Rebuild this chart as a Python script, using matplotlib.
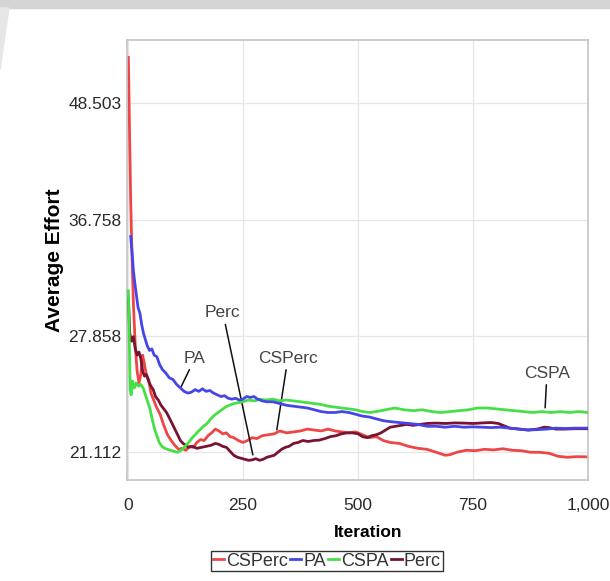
import matplotlib
matplotlib.use('Agg')
import matplotlib.pyplot as plt
from matplotlib.patches import Rectangle, Polygon
from matplotlib.ticker import NullLocator, NullFormatter

# CSPerc
csperc_it = [1, 3, 6, 9, 12, 16, 20, 24, 28, 32, 36, 40, 45, 50, 56, 62, 70, 78, 86, 94,
             102, 110, 118, 126, 134, 142, 150, 158, 166, 174, 182, 190, 198, 206, 214, 222,
             230, 240, 250, 260, 270, 280, 292, 305, 318, 330, 345, 360, 375, 390, 405, 420,
             435, 450, 465, 480, 495, 510, 525, 540, 555, 570, 590, 610, 630, 650, 670, 690,
             700, 715, 735, 755, 775, 795, 815, 835, 855, 875, 895, 915, 935, 955, 975, 1000]
csperc_val = [54.1, 47.0, 38.5, 33.5, 30.0, 27.2, 25.6, 24.9, 25.4, 26.6, 26.0, 25.4, 25.1,
              24.3, 23.9, 23.5, 23.1, 22.5, 22.0, 21.7, 21.45, 21.25, 21.3, 21.2, 21.4, 21.35,
              21.6, 21.75, 21.7, 21.95, 22.1, 22.3, 22.2, 22.05, 22.1, 21.9, 21.85, 21.7, 21.6,
              21.7, 21.85, 21.8, 21.95, 22.0, 22.05, 22.2, 22.1, 22.15, 22.2, 22.3, 22.25, 22.2,
              22.3, 22.2, 22.15, 22.1, 22.15, 22.0, 21.85, 21.9, 21.7, 21.6, 21.55, 21.4, 21.3,
              21.25, 21.1, 20.95, 20.98, 21.1, 21.2, 21.18, 21.25, 21.22, 21.28, 21.2, 21.18,
              21.1, 21.1, 21.05, 20.9, 20.85, 20.88, 20.87]

# PA
pa_it = [6, 9, 12, 15, 18, 22, 26, 30, 34, 38, 42, 47, 52, 57, 63, 69, 75, 82, 90, 98, 106,
         114, 122, 130, 138, 146, 154, 162, 170, 178, 186, 194, 202, 210, 218, 226, 234, 242,
         250, 258, 266, 274, 282, 292, 302, 315, 330, 345, 360, 375, 390, 405, 420, 435, 450,
         465, 480, 495, 510, 525, 540, 555, 570, 590, 610, 630, 650, 670, 690, 710, 730, 750,
         770, 790, 810, 830, 850, 870, 890, 910, 930, 950, 970, 1000]
pa_val = [35.3, 34.0, 32.5, 31.6, 30.8, 29.8, 29.4, 28.6, 28.0, 27.6, 27.2, 26.9, 27.0, 26.6,
          26.5, 26.0, 25.7, 25.5, 25.2, 25.1, 24.8, 24.6, 24.4, 24.3, 24.35, 24.5, 24.4, 24.55,
          24.4, 24.45, 24.3, 24.2, 24.1, 24.15, 24.0, 23.95, 24.0, 23.9, 23.95, 24.1, 24.05,
          24.1, 23.95, 23.85, 23.8, 23.8, 23.7, 23.6, 23.55, 23.5, 23.45, 23.35, 23.25, 23.2,
          23.2, 23.25, 23.2, 23.1, 23.0, 22.95, 22.85, 22.75, 22.7, 22.65, 22.6, 22.55, 22.45,
          22.45, 22.4, 22.45, 22.4, 22.42, 22.4, 22.38, 22.4, 22.35, 22.3, 22.25, 22.27, 22.3,
          22.35, 22.33, 22.35, 22.35]

# CSPA
cspa_it = [1, 3, 5, 7, 10, 14, 18, 23, 28, 33, 38, 43, 48, 53, 58, 63, 68, 74, 80, 86, 92,
           100, 108, 116, 124, 132, 140, 148, 156, 164, 172, 180, 188, 196, 204, 212, 220, 230,
           240, 250, 262, 275, 288, 300, 315, 330, 345, 360, 375, 390, 405, 420, 435, 450, 465,
           480, 495, 510, 525, 540, 560, 580, 600, 620, 640, 660, 680, 700, 720, 740, 760, 780,
           800, 820, 840, 860, 880, 900, 920, 940, 960, 980, 1000]
cspa_val = [31.0, 27.5, 24.5, 24.2, 25.0, 24.6, 24.9, 24.7, 24.8, 24.6, 24.2, 23.8, 23.4, 22.8,
            22.3, 21.95, 21.6, 21.4, 21.3, 21.25, 21.2, 21.15, 21.1, 21.2, 21.4, 21.6, 21.85,
            22.05, 22.25, 22.45, 22.6, 22.85, 23.05, 23.2, 23.35, 23.5, 23.6, 23.7, 23.75, 23.8,
            23.9, 23.85, 23.95, 23.9, 23.95, 23.85, 23.9, 23.85, 23.8, 23.75, 23.7, 23.65, 23.55,
            23.5, 23.45, 23.4, 23.35, 23.25, 23.2, 23.25, 23.35, 23.45, 23.35, 23.3, 23.35, 23.25,
            23.2, 23.25, 23.3, 23.35, 23.45, 23.45, 23.4, 23.35, 23.3, 23.25, 23.2, 23.25, 23.2,
            23.25, 23.2, 23.25, 23.2]

# Perc
perc_it = [1, 4, 8, 12, 16, 20, 24, 28, 32, 36, 40, 45, 50, 55, 60, 66, 72, 78, 84, 90, 96,
           102, 108, 114, 120, 126, 132, 140, 150, 160, 170, 180, 190, 198, 206, 214, 222, 230,
           238, 246, 254, 262, 270, 278, 286, 294, 302, 310, 318, 326, 334, 342, 350, 360, 370,
           380, 392, 404, 416, 428, 440, 452, 464, 476, 488, 500, 510, 520, 530, 540, 550, 560,
           570, 582, 594, 606, 620, 635, 650, 670, 690, 710, 730, 750, 770, 790, 805, 815, 830,
           850, 870, 890, 905, 915, 930, 950, 970, 1000]
perc_val = [30.5, 28.0, 27.5, 27.8, 27.0, 26.6, 26.8, 26.4, 25.6, 25.3, 25.4, 25.0, 24.7, 24.5,
            24.1, 23.9, 23.6, 23.4, 23.2, 22.9, 22.6, 22.3, 22.0, 21.7, 21.55, 21.45, 21.35,
            21.4, 21.3, 21.35, 21.4, 21.45, 21.55, 21.5, 21.4, 21.35, 21.15, 20.95, 20.85, 20.8,
            20.75, 20.7, 20.72, 20.78, 20.7, 20.75, 20.85, 20.9, 20.95, 21.1, 21.25, 21.35, 21.4,
            21.55, 21.6, 21.7, 21.65, 21.7, 21.72, 21.8, 21.9, 21.95, 22.05, 22.1, 22.1, 22.05,
            21.9, 21.85, 21.95, 22.0, 22.1, 22.25, 22.4, 22.45, 22.5, 22.55, 22.5, 22.55, 22.6,
            22.62, 22.6, 22.63, 22.62, 22.6, 22.63, 22.65, 22.6, 22.5, 22.35, 22.3, 22.25, 22.3,
            22.4, 22.38, 22.3, 22.3, 22.32, 22.32]

y_ticks = [21.112, 27.858, 36.758, 48.503]
y_ticklabels = ['21.112', '27.858', '36.758', '48.503']
x_ticks = [0, 250, 500, 750, 1000]
x_ticklabels = ['0', '250', '500', '750', '1,000']

plt.rcParams['font.family'] = ['Liberation Sans', 'DejaVu Sans']

fig = plt.figure(figsize=(6.1, 5.81), dpi=100)
ax = fig.add_axes([127 / 610, 1 - 480 / 581, 461 / 610, 440 / 581])

# grey border strip of the page
fig.patches.append(Rectangle((0, 1 - 8 / 581), 1, 8 / 581, transform=fig.transFigure,
                             color='#d5d5d5', zorder=0))
fig.patches.append(Polygon([(0, 1 - 8 / 581), (9 / 610, 1 - 8 / 581), (0, 1 - 70 / 581)],
                           closed=True, transform=fig.transFigure, color='#e6e6e6', zorder=0))

lw = 2.0
l1, = ax.plot(csperc_it, csperc_val, color='#ee4646', lw=lw, zorder=2)
l4, = ax.plot(perc_it, perc_val, color='#7a1232', lw=lw, zorder=3)
l3, = ax.plot(cspa_it, cspa_val, color='#46e046', lw=lw, zorder=4)
l2, = ax.plot(pa_it, pa_val, color='#4646e8', lw=lw, zorder=5)

ax.set_yscale('log')
ax.set_ylim(19.75, 56.4)
ax.set_xlim(-2, 1000)
ax.yaxis.set_minor_locator(NullLocator())
ax.yaxis.set_minor_formatter(NullFormatter())
ax.set_yticks(y_ticks)
ax.set_yticklabels(y_ticklabels)
ax.set_xticks(x_ticks)
ax.set_xticklabels(x_ticklabels)
ax.tick_params(axis='both', length=0, labelsize=12.5, labelcolor='#2a2a2a')
ax.tick_params(axis='x', pad=13)
ax.tick_params(axis='y', pad=4)
ax.grid(True, color='#e6e6e6', lw=0.9)
ax.set_axisbelow(True)
for s in ax.spines.values():
    s.set_color('#c4c4c4')
    s.set_linewidth(1.2)

ax.set_ylabel('Average Effort', fontsize=15, fontweight='bold')
ax.yaxis.set_label_coords(-0.137, 0.5)
ax.set_xlabel('Iteration', fontsize=12.5, fontweight='bold')
ax.xaxis.set_label_coords(0.523, -0.102)

# callouts
arrow = dict(arrowstyle='-', color='#111111', lw=1.1, shrinkA=1, shrinkB=0)
note_kw = dict(xycoords='axes fraction', textcoords='axes fraction', ha='center',
               va='center', fontsize=12.5, color='#444444', arrowprops=arrow)
ax.annotate('Perc', xy=(0.273, 0.057), xytext=(0.208, 0.38), **note_kw)
ax.annotate('PA', xy=(0.117, 0.211), xytext=(0.1475, 0.277), **note_kw)
ax.annotate('CSPerc', xy=(0.325, 0.114), xytext=(0.349, 0.277), **note_kw)
ax.annotate('CSPA', xy=(0.907, 0.164), xytext=(0.911, 0.243), **note_kw)

leg = fig.legend([l1, l2, l3, l4], ['CSPerc', 'PA', 'CSPA', 'Perc'], loc='center',
                 bbox_to_anchor=(327 / 610, 1 - 561 / 581), ncol=4, fontsize=13,
                 handlelength=0.6, handletextpad=0.1, columnspacing=0.15, borderpad=0.1,
                 fancybox=False, framealpha=1, edgecolor='#333333', labelcolor='#333333')
leg.get_frame().set_linewidth(1.0)

fig.savefig('out.png', dpi=100)
